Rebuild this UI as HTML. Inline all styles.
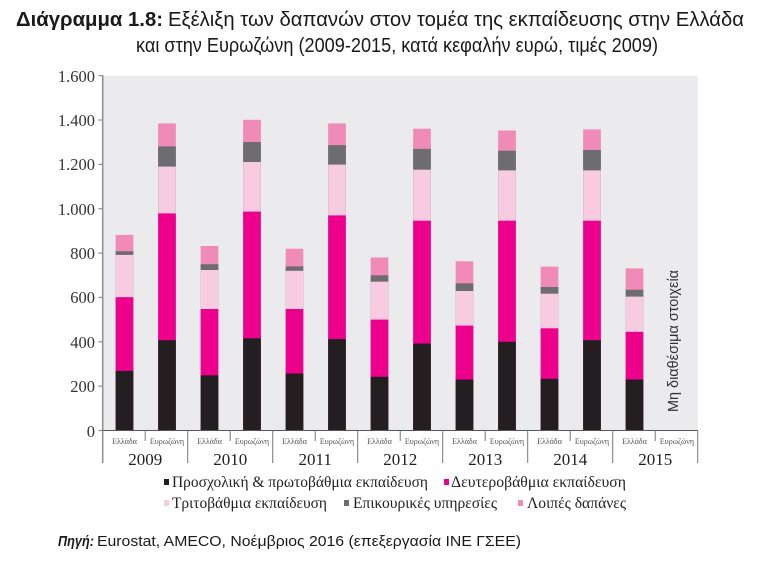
<!DOCTYPE html>
<html>
<head>
<meta charset="utf-8">
<style>
  html, body { margin: 0; padding: 0; background: #ffffff; }
  svg { display: block; }
</style>
</head>
<body>
<svg width="768" height="564" viewBox="0 0 768 564" xmlns="http://www.w3.org/2000/svg">
  <rect x="0" y="0" width="768" height="564" fill="#ffffff"/>

  <!-- Title -->
  <text y="26" font-family="'Liberation Sans', 'DejaVu Sans', sans-serif" font-size="20" fill="#1a1a1a">
    <tspan x="16" font-weight="bold" textLength="147" lengthAdjust="spacingAndGlyphs">Διάγραμμα 1.8:</tspan>
    <tspan x="168" textLength="576" lengthAdjust="spacingAndGlyphs">Εξέλιξη των δαπανών στον τομέα της εκπαίδευσης στην Ελλάδα</tspan>
  </text>
  <text x="136" y="52" font-family="'Liberation Sans', 'DejaVu Sans', sans-serif" font-size="20" fill="#1a1a1a" textLength="522" lengthAdjust="spacingAndGlyphs">και στην Ευρωζώνη (2009-2015, κατά κεφαλήν ευρώ, τιμές 2009)</text>

  <!-- Plot background -->
  <rect x="102.7" y="75.7" width="595" height="354.8" fill="#ebebee"/>

  <!-- Bars -->
  <g>
    <rect x="115.65" y="234.9" width="17.7" height="195.6" fill="#f08bb8"/>
    <rect x="115.65" y="251.3" width="17.7" height="179.2" fill="#6c6c71"/>
    <rect x="115.65" y="254.9" width="17.7" height="175.6" fill="#f8cce0"/>
    <rect x="115.65" y="297.2" width="17.7" height="133.3" fill="#ec008c"/>
    <rect x="115.65" y="370.9" width="17.7" height="59.6" fill="#231f20"/>

    <rect x="158.15" y="123.4" width="17.7" height="307.1" fill="#f08bb8"/>
    <rect x="158.15" y="146.4" width="17.7" height="284.1" fill="#6c6c71"/>
    <rect x="158.15" y="166.6" width="17.7" height="263.9" fill="#f8cce0"/>
    <rect x="158.15" y="213.4" width="17.7" height="217.1" fill="#ec008c"/>
    <rect x="158.15" y="340.2" width="17.7" height="90.3" fill="#231f20"/>

    <rect x="200.65" y="246.0" width="17.7" height="184.5" fill="#f08bb8"/>
    <rect x="200.65" y="264.2" width="17.7" height="166.3" fill="#6c6c71"/>
    <rect x="200.65" y="270.0" width="17.7" height="160.5" fill="#f8cce0"/>
    <rect x="200.65" y="309.0" width="17.7" height="121.5" fill="#ec008c"/>
    <rect x="200.65" y="375.3" width="17.7" height="55.2" fill="#231f20"/>

    <rect x="243.15" y="119.8" width="17.7" height="310.7" fill="#f08bb8"/>
    <rect x="243.15" y="142.0" width="17.7" height="288.5" fill="#6c6c71"/>
    <rect x="243.15" y="162.0" width="17.7" height="268.5" fill="#f8cce0"/>
    <rect x="243.15" y="211.6" width="17.7" height="218.9" fill="#ec008c"/>
    <rect x="243.15" y="338.3" width="17.7" height="92.2" fill="#231f20"/>

    <rect x="285.65" y="248.7" width="17.7" height="181.8" fill="#f08bb8"/>
    <rect x="285.65" y="266.4" width="17.7" height="164.1" fill="#6c6c71"/>
    <rect x="285.65" y="270.8" width="17.7" height="159.7" fill="#f8cce0"/>
    <rect x="285.65" y="309.0" width="17.7" height="121.5" fill="#ec008c"/>
    <rect x="285.65" y="373.5" width="17.7" height="57.0" fill="#231f20"/>

    <rect x="328.15" y="123.4" width="17.7" height="307.1" fill="#f08bb8"/>
    <rect x="328.15" y="145.1" width="17.7" height="285.4" fill="#6c6c71"/>
    <rect x="328.15" y="164.6" width="17.7" height="265.9" fill="#f8cce0"/>
    <rect x="328.15" y="215.4" width="17.7" height="215.1" fill="#ec008c"/>
    <rect x="328.15" y="339.1" width="17.7" height="91.4" fill="#231f20"/>

    <rect x="370.65" y="257.5" width="17.7" height="173.0" fill="#f08bb8"/>
    <rect x="370.65" y="275.3" width="17.7" height="155.2" fill="#6c6c71"/>
    <rect x="370.65" y="281.7" width="17.7" height="148.8" fill="#f8cce0"/>
    <rect x="370.65" y="319.6" width="17.7" height="110.9" fill="#ec008c"/>
    <rect x="370.65" y="376.8" width="17.7" height="53.7" fill="#231f20"/>

    <rect x="413.15" y="128.7" width="17.7" height="301.8" fill="#f08bb8"/>
    <rect x="413.15" y="148.9" width="17.7" height="281.6" fill="#6c6c71"/>
    <rect x="413.15" y="169.7" width="17.7" height="260.8" fill="#f8cce0"/>
    <rect x="413.15" y="220.7" width="17.7" height="209.8" fill="#ec008c"/>
    <rect x="413.15" y="343.6" width="17.7" height="86.9" fill="#231f20"/>

    <rect x="455.65" y="261.3" width="17.7" height="169.2" fill="#f08bb8"/>
    <rect x="455.65" y="283.3" width="17.7" height="147.2" fill="#6c6c71"/>
    <rect x="455.65" y="291.0" width="17.7" height="139.5" fill="#f8cce0"/>
    <rect x="455.65" y="325.6" width="17.7" height="104.9" fill="#ec008c"/>
    <rect x="455.65" y="379.5" width="17.7" height="51.0" fill="#231f20"/>

    <rect x="498.15" y="130.5" width="17.7" height="300.0" fill="#f08bb8"/>
    <rect x="498.15" y="150.7" width="17.7" height="279.8" fill="#6c6c71"/>
    <rect x="498.15" y="170.4" width="17.7" height="260.1" fill="#f8cce0"/>
    <rect x="498.15" y="220.7" width="17.7" height="209.8" fill="#ec008c"/>
    <rect x="498.15" y="341.8" width="17.7" height="88.7" fill="#231f20"/>

    <rect x="540.65" y="266.6" width="17.7" height="163.9" fill="#f08bb8"/>
    <rect x="540.65" y="287.0" width="17.7" height="143.5" fill="#6c6c71"/>
    <rect x="540.65" y="293.7" width="17.7" height="136.8" fill="#f8cce0"/>
    <rect x="540.65" y="328.3" width="17.7" height="102.2" fill="#ec008c"/>
    <rect x="540.65" y="378.8" width="17.7" height="51.7" fill="#231f20"/>

    <rect x="583.15" y="129.4" width="17.7" height="301.1" fill="#f08bb8"/>
    <rect x="583.15" y="150.0" width="17.7" height="280.5" fill="#6c6c71"/>
    <rect x="583.15" y="170.4" width="17.7" height="260.1" fill="#f8cce0"/>
    <rect x="583.15" y="220.7" width="17.7" height="209.8" fill="#ec008c"/>
    <rect x="583.15" y="340.2" width="17.7" height="90.3" fill="#231f20"/>

    <rect x="625.65" y="268.4" width="17.7" height="162.1" fill="#f08bb8"/>
    <rect x="625.65" y="289.7" width="17.7" height="140.8" fill="#6c6c71"/>
    <rect x="625.65" y="296.6" width="17.7" height="133.9" fill="#f8cce0"/>
    <rect x="625.65" y="331.8" width="17.7" height="98.7" fill="#ec008c"/>
    <rect x="625.65" y="379.5" width="17.7" height="51.0" fill="#231f20"/>
  </g>

  <!-- Not available text -->
  <text transform="translate(678,341) rotate(-90)" text-anchor="middle" font-family="'Liberation Sans', 'DejaVu Sans', sans-serif" font-size="15" fill="#333333" textLength="142" lengthAdjust="spacingAndGlyphs">Μη διαθέσιμα στοιχεία</text>

  <!-- Y axis -->
  <line x1="102.7" y1="75.2" x2="102.7" y2="463" stroke="#8c8c8c" stroke-width="1.5"/>
  <g stroke="#8c8c8c" stroke-width="1.2">
    <line x1="98.5" y1="75.7" x2="102.7" y2="75.7"/>
    <line x1="98.5" y1="120.05" x2="102.7" y2="120.05"/>
    <line x1="98.5" y1="164.4" x2="102.7" y2="164.4"/>
    <line x1="98.5" y1="208.75" x2="102.7" y2="208.75"/>
    <line x1="98.5" y1="253.1" x2="102.7" y2="253.1"/>
    <line x1="98.5" y1="297.45" x2="102.7" y2="297.45"/>
    <line x1="98.5" y1="341.8" x2="102.7" y2="341.8"/>
    <line x1="98.5" y1="386.15" x2="102.7" y2="386.15"/>
    <line x1="98.5" y1="430.5" x2="102.7" y2="430.5"/>
  </g>
  <g font-family="'Liberation Serif', 'DejaVu Serif', serif" font-size="16.5" fill="#333333" text-anchor="end">
    <text x="95" y="82">1.600</text>
    <text x="95" y="126">1.400</text>
    <text x="95" y="170">1.200</text>
    <text x="95" y="215">1.000</text>
    <text x="95" y="259">800</text>
    <text x="95" y="303">600</text>
    <text x="95" y="348">400</text>
    <text x="95" y="392">200</text>
    <text x="95" y="437">0</text>
  </g>

  <!-- X axis -->
  <line x1="102.7" y1="430.5" x2="697.7" y2="430.5" stroke="#555555" stroke-width="1"/>
  <g stroke="#777777" stroke-width="1">
    <line x1="145.2" y1="430.5" x2="145.2" y2="441"/>
    <line x1="230.2" y1="430.5" x2="230.2" y2="441"/>
    <line x1="315.2" y1="430.5" x2="315.2" y2="441"/>
    <line x1="400.2" y1="430.5" x2="400.2" y2="441"/>
    <line x1="485.2" y1="430.5" x2="485.2" y2="441"/>
    <line x1="570.2" y1="430.5" x2="570.2" y2="441"/>
    <line x1="655.2" y1="430.5" x2="655.2" y2="441"/>
    <line x1="187.7" y1="430.5" x2="187.7" y2="463"/>
    <line x1="272.7" y1="430.5" x2="272.7" y2="463"/>
    <line x1="357.7" y1="430.5" x2="357.7" y2="463"/>
    <line x1="442.7" y1="430.5" x2="442.7" y2="463"/>
    <line x1="527.7" y1="430.5" x2="527.7" y2="463"/>
    <line x1="612.7" y1="430.5" x2="612.7" y2="463"/>
    <line x1="697.7" y1="430.5" x2="697.7" y2="463"/>
  </g>
  <g font-family="'Liberation Serif', 'DejaVu Serif', serif" font-size="8" fill="#555555" text-anchor="middle">
    <text x="124.5" y="444">Ελλάδα</text>
    <text x="167" y="444">Ευρωζώνη</text>
    <text x="209.5" y="444">Ελλάδα</text>
    <text x="252" y="444">Ευρωζώνη</text>
    <text x="294.5" y="444">Ελλάδα</text>
    <text x="337" y="444">Ευρωζώνη</text>
    <text x="379.5" y="444">Ελλάδα</text>
    <text x="422" y="444">Ευρωζώνη</text>
    <text x="464.5" y="444">Ελλάδα</text>
    <text x="507" y="444">Ευρωζώνη</text>
    <text x="549.5" y="444">Ελλάδα</text>
    <text x="592" y="444">Ευρωζώνη</text>
    <text x="634.5" y="444">Ελλάδα</text>
    <text x="677" y="444">Ευρωζώνη</text>
  </g>
  <g font-family="'Liberation Serif', 'DejaVu Serif', serif" font-size="17" fill="#222222" text-anchor="middle">
    <text x="145.2" y="465">2009</text>
    <text x="230.2" y="465">2010</text>
    <text x="315.2" y="465">2011</text>
    <text x="400.2" y="465">2012</text>
    <text x="485.2" y="465">2013</text>
    <text x="570.2" y="465">2014</text>
    <text x="655.2" y="465">2015</text>
  </g>

  <!-- Legend -->
  <g font-family="'Liberation Serif', 'DejaVu Serif', serif" font-size="15.5" fill="#222222">
    <rect x="164" y="479" width="5" height="6" fill="#231f20"/>
    <text x="172" y="487" textLength="256" lengthAdjust="spacingAndGlyphs">Προσχολική &amp; πρωτοβάθμια εκπαίδευση</text>
    <rect x="444" y="479" width="5" height="6" fill="#ec008c"/>
    <text x="451" y="487" textLength="175" lengthAdjust="spacingAndGlyphs">Δευτεροβάθμια εκπαίδευση</text>

    <rect x="164" y="500" width="5" height="6" fill="#f8cce0"/>
    <text x="172" y="508" textLength="155" lengthAdjust="spacingAndGlyphs">Τριτοβάθμια εκπαίδευση</text>
    <rect x="344" y="500" width="5" height="6" fill="#6c6c71"/>
    <text x="353" y="508" textLength="144" lengthAdjust="spacingAndGlyphs">Επικουρικές υπηρεσίες</text>
    <rect x="518" y="500" width="5" height="6" fill="#f08bb8"/>
    <text x="527" y="508" textLength="99" lengthAdjust="spacingAndGlyphs">Λοιπές δαπάνες</text>
  </g>

  <!-- Source -->
  <text y="546" font-family="'Liberation Sans', 'DejaVu Sans', sans-serif" font-size="15" fill="#1a1a1a">
    <tspan x="58" font-weight="bold" font-style="italic" textLength="36" lengthAdjust="spacingAndGlyphs">Πηγή:</tspan>
    <tspan x="97" textLength="424" lengthAdjust="spacingAndGlyphs">Eurostat, AMECO, Νοέμβριος 2016  (επεξεργασία ΙΝΕ ΓΣΕΕ)</tspan>
  </text>
</svg>
</body>
</html>
